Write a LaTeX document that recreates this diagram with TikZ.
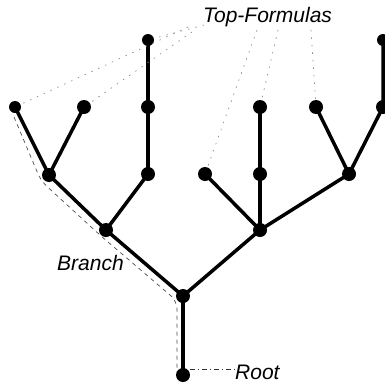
\documentclass[tikz,border=0pt]{standalone}
\usepackage{fontspec}
\setmainfont{Liberation Sans}
\begin{document}
\begin{tikzpicture}[x=1pt,y=-1pt,
  dot/.style={circle,fill=black,inner sep=0pt,minimum size=14pt},
  smalldot/.style={dot,minimum size=12pt},
  edge/.style={line width=3.5pt},
  lbl/.style={font=\fontsize{21}{24}\selectfont\itshape,inner sep=0pt},
  hint/.style={gray,line width=0.6pt,dash pattern=on 1.5pt off 6pt},
  trail/.style={black!70,line width=0.7pt,dash pattern=on 4pt off 4pt},
  rootline/.style={black!80,line width=0.7pt,dash pattern=on 5pt off 3pt on 1pt off 3pt}]
\useasboundingbox (0,0) rectangle (385,383);
\clip (0,0) rectangle (385,383);

% nodes of the tree
\node[dot] (R) at (183,375) {};
\node[dot] (b0) at (183,296) {};
\node[dot] (bl) at (106,230) {};
\node[dot] (br) at (260,230) {};
\node[dot] (l1) at (49,175) {};
\node[dot] (l2) at (148,174) {};
\node[smalldot] (l1a) at (15,107) {};
\node[dot] (l1b) at (84,107) {};
\node[dot] (l2a) at (148,107) {};
\node[smalldot] (l2b) at (148,40) {};
\node[dot] (r1) at (205,174) {};
\node[dot] (r2) at (260,174) {};
\node[dot] (r3) at (349,174) {};
\node[dot] (r2a) at (260,107) {};
\node[dot] (r3a) at (316,107) {};
\node[dot] (r3b) at (383,107) {};
\node[smalldot] (r3c) at (383,40) {};

% edges
\draw[edge] (R.center) -- (b0.center);
\draw[edge] (b0.center) -- (bl.center);
\draw[edge] (b0.center) -- (br.center);
\draw[edge] (bl.center) -- (l1.center);
\draw[edge] (bl.center) -- (l2.center);
\draw[edge] (l1.center) -- (l1a.center);
\draw[edge] (l1.center) -- (l1b.center);
\draw[edge] (l2.center) -- (l2a.center) -- (l2b.center);
\draw[edge] (br.center) -- (r1.center);
\draw[edge] (br.center) -- (r2.center) -- (r2a.center);
\draw[edge] (br.center) -- (r3.center);
\draw[edge] (r3.center) -- (r3a.center);
\draw[edge] (r3.center) -- (r3b.center) -- (r3c.center);

% labels
\node[lbl,anchor=base west] (top) at (203,22) {Top-Formulas};
\node[lbl,anchor=base west] (branch) at (57,270) {Branch};
\node[lbl,anchor=base west] (root) at (235,379) {Root};

% pointers from the label to the top formulas
\coordinate (t1) at (204,25);
\coordinate (t2) at (192,32);
\coordinate (t3) at (188,27);
\coordinate (t4) at (257,30);
\coordinate (t5) at (278,30);
\coordinate (t6) at (311,30);
\draw[hint] (t1) -- (l2b);
\draw[hint] (t2) -- (l1b);
\draw[hint] (t3) -- (l1a);
\draw[hint] (t4) -- (r1);
\draw[hint] (t5) -- (r2a);
\draw[hint] (t6) -- (r3a);

% the branch from a leaf down to the root
\coordinate (p0) at (14,117);
\coordinate (p1) at (41,181);
\coordinate (p2) at (101,236);
\coordinate (p3) at (177,301);
\coordinate (p4) at (177,372);
\draw[trail,rounded corners=8pt] (p0) -- (p1) -- (p2) -- (p3) -- (p4);

% root pointer
\coordinate (rp) at (190,369);
\draw[rootline] (rp) -- (root.west |- rp);
\end{tikzpicture}
\end{document}
